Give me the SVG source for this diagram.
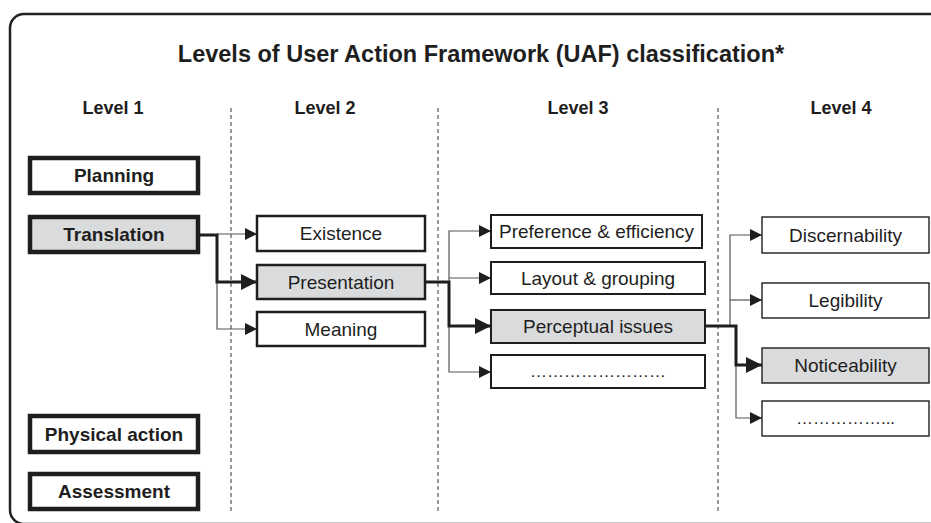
<svg xmlns="http://www.w3.org/2000/svg" width="931" height="523" viewBox="0 0 931 523">
<defs>
<style>
text{font-family:"Liberation Sans",Arial,sans-serif;fill:#1e1e1e;text-anchor:middle}
.title{font-size:23.5px;font-weight:bold}
.lvl{font-size:18px;font-weight:bold}
.l1 rect{fill:#fff;stroke:#1e1e1e;stroke-width:4.5}
.l1 text{font-size:19px;font-weight:bold}
.l2 rect{fill:#fff;stroke:#1e1e1e;stroke-width:2.5}
.l3 rect{fill:#fff;stroke:#1e1e1e;stroke-width:2}
.l4 rect{fill:#fff;stroke:#1e1e1e;stroke-width:1.4}
.n text{font-size:19px}
.n text.dots{font-size:17px}
rect.sel{fill:#dadbdc}
.div{stroke:#333;stroke-width:1;stroke-dasharray:4 3}
.thick{fill:none;stroke:#1e1e1e;stroke-width:3}
.thin{fill:none;stroke:#555;stroke-width:1.2}
</style>
<marker id="ab" markerUnits="userSpaceOnUse" viewBox="0 0 16 16" refX="16" refY="8" markerWidth="16" markerHeight="16" orient="auto"><path d="M0,0L16,8L0,16Z" fill="#1e1e1e"/></marker>
<marker id="as" markerUnits="userSpaceOnUse" viewBox="0 0 12 12" refX="12" refY="6" markerWidth="12" markerHeight="12" orient="auto"><path d="M0,0L12,6L0,12Z" fill="#1e1e1e"/></marker>
</defs>
<rect x="10" y="14" width="950" height="510" rx="14" fill="#fff" stroke="#222" stroke-width="2.5"/>
<text class="title" x="481" y="62">Levels of User Action Framework (UAF) classification*</text>
<g id="headers">
<text class="lvl" x="113" y="114">Level 1</text>
<text class="lvl" x="325" y="114">Level 2</text>
<text class="lvl" x="578" y="114">Level 3</text>
<text class="lvl" x="841" y="114">Level 4</text>
</g>
<g id="dividers">
<line class="div" x1="231" y1="108" x2="231" y2="512"/>
<line class="div" x1="438" y1="108" x2="438" y2="512"/>
<line class="div" x1="718" y1="108" x2="718" y2="512"/>
</g>
<g id="connectors">
<path class="thin" d="M217,234H257" marker-end="url(#as)"/>
<path class="thin" d="M217,282V329H257" marker-end="url(#as)"/>
<path class="thick" d="M199,235H217V282H257" marker-end="url(#ab)"/>
<path class="thin" d="M449,282V231H491" marker-end="url(#as)"/>
<path class="thin" d="M449,278H491" marker-end="url(#as)"/>
<path class="thin" d="M449,326V372H491" marker-end="url(#as)"/>
<path class="thick" d="M425,282H449V326H491" marker-end="url(#ab)"/>
<path class="thin" d="M730,326V235H762" marker-end="url(#as)"/>
<path class="thin" d="M730,300H762" marker-end="url(#as)"/>
<path class="thin" d="M736,365V418H762" marker-end="url(#as)"/>
<path class="thick" d="M705,326H736V365H762" marker-end="url(#ab)"/>
</g>
<g id="planning" class="l1"><rect x="30" y="158" width="168" height="35"/><text x="114" y="182">Planning</text></g>
<g id="translation" class="l1"><rect class="sel" x="30" y="217" width="168" height="35"/><text x="114" y="241">Translation</text></g>
<g id="physical-action" class="l1"><rect x="30" y="416" width="168" height="36"/><text x="114" y="440.5">Physical action</text></g>
<g id="assessment" class="l1"><rect x="30" y="474" width="168" height="35"/><text x="114" y="498">Assessment</text></g>
<g id="existence" class="l2 n"><rect x="257" y="216" width="168" height="35"/><text x="341" y="240">Existence</text></g>
<g id="presentation" class="l2 n"><rect class="sel" x="257" y="265" width="168" height="34"/><text x="341" y="288.5">Presentation</text></g>
<g id="meaning" class="l2 n"><rect x="257" y="312" width="168" height="34"/><text x="341" y="335.5">Meaning</text></g>
<g id="preference" class="l3 n"><rect x="491" y="215" width="211" height="33"/><text x="596.5" y="238">Preference &amp; efficiency</text></g>
<g id="layout" class="l3 n"><rect x="491" y="262" width="214" height="32"/><text x="598" y="284.5">Layout &amp; grouping</text></g>
<g id="perceptual" class="l3 n"><rect class="sel" x="491" y="310" width="214" height="33"/><text x="598" y="333">Perceptual issues</text></g>
<g id="l3-more" class="l3 n"><rect x="491" y="355" width="214" height="33"/><text class="dots" x="598" y="377">……………………</text></g>
<g id="discernability" class="l4 n"><rect x="762" y="217" width="167" height="36"/><text x="845.5" y="241.5">Discernability</text></g>
<g id="legibility" class="l4 n"><rect x="762" y="283" width="167" height="35"/><text x="845.5" y="307">Legibility</text></g>
<g id="noticeability" class="l4 n"><rect class="sel" x="762" y="348" width="167" height="35"/><text x="845.5" y="372">Noticeability</text></g>
<g id="l4-more" class="l4 n"><rect x="762" y="401" width="167" height="35"/><text class="dots" x="845.5" y="424">……………...</text></g>
</svg>
